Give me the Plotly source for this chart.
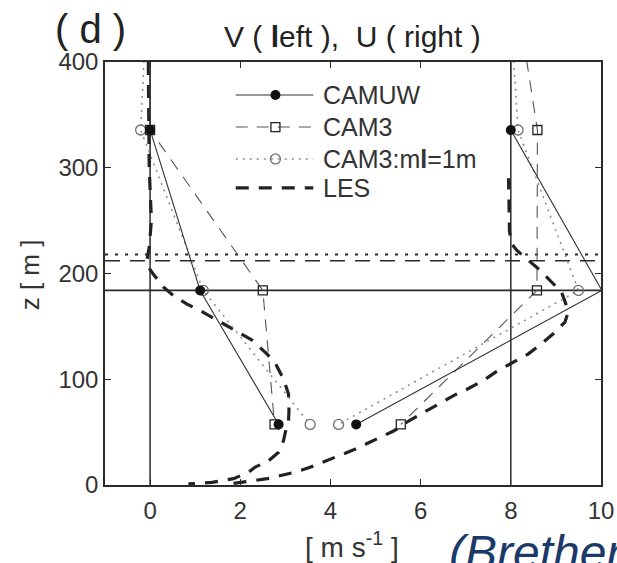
import plotly.graph_objects as go

# ---- data -------------------------------------------------------------
# model levels [m] (first entry is the level above the displayed range)
z_levels = [520.0, 335.7, 184.0, 57.3]

# V (left group) and U (right group) at the model levels [m s-1]
v_camuw = [0.0, 0.0, 1.11, 2.85]
u_camuw = [8.0, 8.0, 10.02, 4.57]
v_cam3 = [0.0, 0.0, 2.50, 2.76]
u_cam3 = [7.92, 8.59, 8.58, 5.56]
v_cam3ml = [0.0, -0.21, 1.18, 3.55]
u_cam3ml = [7.89, 8.16, 9.50, 4.18]

# LES reference profiles
les_z_v = [400, 300, 250, 225, 212, 205, 200, 187, 179, 171, 165, 157, 151,
           143, 137, 124, 115, 100, 86, 70, 61, 50, 42, 31, 22, 17, 12, 6, 4,
           2.5, 1]
les_v = [-0.04, -0.02, 0.03, -0.02, -0.07, -0.02, 0.06, 0.30, 0.52, 0.82, 1.11,
         1.44, 1.70, 2.04, 2.26, 2.59, 2.78, 2.96, 3.07, 3.08, 3.07, 3.00,
         2.96, 2.85, 2.60, 2.33, 2.18, 1.85, 1.60, 1.37, 0.85]
les_z_u = [1.5, 3, 6, 9, 12, 16, 22, 27, 33, 39, 45, 51, 61, 67, 77, 85, 91,
           99, 107, 117, 124, 135, 143, 154, 162, 170, 183, 192, 203, 211, 222,
           228, 240, 290]
les_u = [1.85, 2.10, 2.60, 2.90, 3.20, 3.50, 3.85, 4.15, 4.50, 4.80, 5.10,
         5.40, 5.75, 6.00, 6.40, 6.75, 7.05, 7.40, 7.67, 8.10, 8.39, 8.72,
         8.94, 9.20, 9.26, 9.23, 9.12, 8.90, 8.65, 8.43, 8.13, 8.02, 7.97,
         7.95]

# geostrophic wind components (V_g, U_g) and diagnosed PBL heights
geo_wind = [0.0, 8.0]
pbl_camuw = 184.0
pbl_cam3 = 212.0
pbl_cam3ml = 218.0

x_ticks = [0, 2, 4, 6, 8, 10]
z_ticks = [0, 100, 200, 300, 400]
legend_names = ["CAMUW", "CAM3", "CAM3:m<b>l</b>=1m", "LES"]

X_RANGE = [-1.0, 10.0]
Z_RANGE = [0.0, 400.0]

FONT = "Liberation Sans, Arial, Helvetica, sans-serif"
INK = "#2b2b2b"

# ---- styles -----------------------------------------------------------
STY = {
    "CAMUW": dict(line=dict(color="#333333", width=1.1),
                  marker=dict(symbol="circle", size=10, color="#111111")),
    "CAM3": dict(line=dict(color="#555555", width=1.1, dash="12px,9px"),
                 marker=dict(symbol="square-open", size=9, color="#222222",
                             line=dict(width=1.3))),
    "CAM3ml": dict(line=dict(color="#8a8a8a", width=1.5, dash="2px,5px"),
                   marker=dict(symbol="circle-open", size=10, color="#6f6f6f",
                               line=dict(width=1.3))),
    "LES": dict(line=dict(color="#222222", width=3.2, dash="13px,10px"),
                marker=None),
}

fig = go.Figure()


def add_profile(xs, zs, key):
    st = STY[key]
    fig.add_trace(go.Scatter(x=xs, y=zs, mode="lines", line=st["line"],
                             hoverinfo="skip", showlegend=False))
    if st["marker"] is not None:
        pts = [(x, z) for x, z in zip(xs, zs)
               if X_RANGE[0] <= x <= X_RANGE[1] and Z_RANGE[0] <= z <= Z_RANGE[1]]
        fig.add_trace(go.Scatter(x=[p[0] for p in pts], y=[p[1] for p in pts],
                                 mode="markers", marker=st["marker"],
                                 hoverinfo="skip", showlegend=False))


# reference lines: geostrophic wind and PBL heights
for g in geo_wind:
    fig.add_trace(go.Scatter(x=[g, g], y=Z_RANGE, mode="lines",
                             line=dict(color=INK, width=1.5),
                             hoverinfo="skip", showlegend=False))
for h, dash, w in [(pbl_camuw, "solid", 1.6), (pbl_cam3, "15px,10px", 1.6),
                   (pbl_cam3ml, "3px,7px", 2.0)]:
    fig.add_trace(go.Scatter(x=X_RANGE, y=[h, h], mode="lines",
                             line=dict(color=INK, width=w, dash=dash),
                             hoverinfo="skip", showlegend=False))

# profiles
add_profile(les_v, les_z_v, "LES")
add_profile(les_u, les_z_u, "LES")
add_profile(v_cam3ml, z_levels, "CAM3ml")
add_profile(u_cam3ml, z_levels, "CAM3ml")
add_profile(v_cam3, z_levels, "CAM3")
add_profile(u_cam3, z_levels, "CAM3")
add_profile(v_camuw, z_levels, "CAMUW")
add_profile(u_camuw, z_levels, "CAMUW")

# key (drawn inside the axes, upper middle)
KEY_X0, KEY_X1, KEY_XM, KEY_XT = 1.90, 3.62, 2.78, 3.80
KEY_Z = [368.8, 338.5, 308.3, 280.9]
for name, key, kz in zip(legend_names, ["CAMUW", "CAM3", "CAM3ml", "LES"], KEY_Z):
    st = STY[key]
    fig.add_trace(go.Scatter(x=[KEY_X0, KEY_X1], y=[kz, kz], mode="lines",
                             line=st["line"], hoverinfo="skip", showlegend=False))
    if st["marker"] is not None:
        fig.add_trace(go.Scatter(x=[KEY_XM], y=[kz], mode="markers",
                                 marker=st["marker"], hoverinfo="skip",
                                 showlegend=False))
    fig.add_annotation(x=KEY_XT, y=kz, xref="x", yref="y", text=name,
                       showarrow=False, xanchor="left", yanchor="middle",
                       font=dict(family=FONT, size=25, color="#333333"))

axis_common = dict(showline=True, linecolor=INK, linewidth=1.5, mirror="ticks",
                   ticks="inside", ticklen=6, tickwidth=1.2, tickcolor=INK,
                   showgrid=False, zeroline=False, automargin=False,
                   tickfont=dict(family=FONT, size=24, color="#333333"))

fig.update_xaxes(range=X_RANGE, tickvals=x_ticks, ticklabelstandoff=3,
                 **axis_common)
fig.update_yaxes(range=Z_RANGE, tickvals=z_ticks, **axis_common)

# titles and labels
fig.add_annotation(x=-0.030, y=1.078, xref="paper", yref="paper", text="( d )",
                   showarrow=False, xanchor="center", yanchor="middle",
                   font=dict(family=FONT, size=40, color="#222222"))
fig.add_annotation(x=0.498, y=1.060, xref="paper", yref="paper",
                   text="V ( <b>l</b>eft ),\u00a0 U ( right )",
                   showarrow=False, xanchor="center", yanchor="middle",
                   font=dict(family=FONT, size=30, color="#222222"))
fig.add_annotation(x=-0.151, y=0.496, xref="paper", yref="paper", text="z [ m ]",
                   textangle=-90, showarrow=False, xanchor="center",
                   yanchor="middle",
                   font=dict(family=FONT, size=26, color="#333333"))
fig.add_annotation(x=0.498, y=-0.143, xref="paper", yref="paper",
                   text="[ m s<sup>-1</sup> ]", showarrow=False,
                   xanchor="center", yanchor="middle",
                   font=dict(family=FONT, size=28, color="#333333"))
fig.add_annotation(x=0.690, y=-0.092, xref="paper", yref="paper",
                   text="<i>(Brether</i>", showarrow=False,
                   xanchor="left", yanchor="top",
                   font=dict(family=FONT, size=48, color="#1b3a6a"))

fig.update_layout(width=617, height=563,
                  margin=dict(l=105, r=16, t=62, b=78, autoexpand=False),
                  paper_bgcolor="white", plot_bgcolor="white",
                  showlegend=False)

fig.write_html("out.html")
